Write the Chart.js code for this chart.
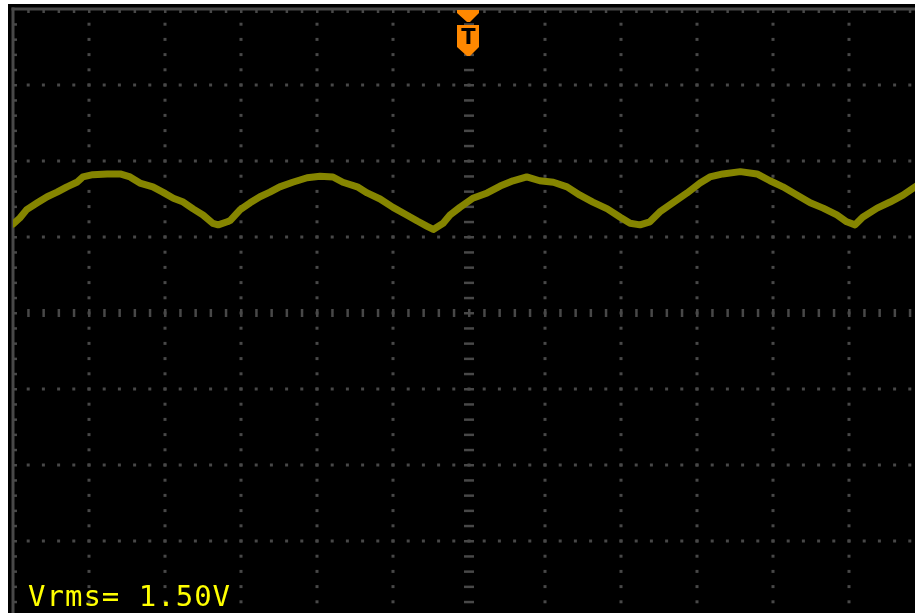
<!DOCTYPE html>
<html>
<head>
<meta charset="utf-8">
<title>Scope capture</title>
<script src="https://cdn.jsdelivr.net/npm/chart.js@4.4.1/dist/chart.umd.min.js"></script>
<style>
  html, body { margin: 0; padding: 0; background: #fff; }
  #wrap { position: relative; width: 915px; height: 613px; overflow: hidden; }
  #screen { position: absolute; left: 8px; top: 4px; right: 0; bottom: 0; background: #000; }
  #scope { position: absolute; left: 0; top: 0; width: 915px; height: 613px; }
  #readout {
    position: absolute; left: 28px; top: 582px;
    font-family: "DejaVu Sans Mono", monospace; font-size: 29px; line-height: 29px;
    letter-spacing: 1px; color: #ffff00; white-space: pre;
  }
</style>
</head>
<body>
<div id="wrap">
  <div id="screen"></div>
  <canvas id="scope" width="915" height="613"></canvas>
  <div id="readout"></div>
</div>
<script>
// trace, in screen divisions (0,0 = centre of graticule)
const timeDiv = [-6.00, -5.91, -5.82, -5.68, -5.55, -5.42, -5.29, -5.16, -5.08, -4.95,
  -4.76, -4.59, -4.46, -4.33, -4.16, -4.03, -3.89, -3.76, -3.63, -3.50,
  -3.37, -3.30, -3.18, -3.14, -3.01, -2.88, -2.75, -2.62, -2.49, -2.32,
  -2.13, -1.96, -1.79, -1.66, -1.47, -1.34, -1.17, -1.00, -0.82, -0.68,
  -0.55, -0.47, -0.34, -0.25, -0.12, 0.05, 0.24, 0.41, 0.58, 0.76,
  0.93, 1.11, 1.29, 1.46, 1.63, 1.82, 1.99, 2.12, 2.25, 2.38,
  2.51, 2.68, 2.87, 3.04, 3.17, 3.34, 3.57, 3.79, 3.96, 4.13,
  4.32, 4.49, 4.66, 4.84, 4.97, 5.08, 5.18, 5.37, 5.54, 5.71,
  5.84, 5.93];

const voltsDiv = [1.17, 1.25, 1.36, 1.45, 1.53, 1.59, 1.66, 1.72, 1.79, 1.82,
  1.83, 1.83, 1.79, 1.71, 1.66, 1.59, 1.51, 1.46, 1.37, 1.29,
  1.18, 1.16, 1.20, 1.22, 1.36, 1.45, 1.53, 1.59, 1.66, 1.72,
  1.78, 1.80, 1.79, 1.72, 1.66, 1.58, 1.50, 1.39, 1.29, 1.21,
  1.14, 1.10, 1.18, 1.29, 1.39, 1.51, 1.58, 1.67, 1.74, 1.79,
  1.74, 1.72, 1.66, 1.55, 1.46, 1.37, 1.26, 1.18, 1.16, 1.20,
  1.33, 1.45, 1.58, 1.71, 1.79, 1.83, 1.86, 1.83, 1.74, 1.66,
  1.55, 1.45, 1.38, 1.29, 1.20, 1.16, 1.26, 1.38, 1.46, 1.55,
  1.64, 1.70];

// graticule divisions and the trigger position
const gridX = [-6, -5, -4, -3, -2, -1, 0, 1, 2, 3, 4, 5];
const gridY = [4, 3, 2, 1, 0, -1, -2, -3];
const triggerAt = 0;
const readoutText = "Vrms= 1.50V";

document.getElementById("readout").textContent = readoutText;

// 76px per division, screen cropped on the right and bottom
const DIV = 76;
const xMin = -6, xMax = -6 + (915 - 13) / DIV;
const yMax = 4, yMin = 4 - (613 - 9) / DIV;

const scopeGrid = {
  id: "scopeGrid",
  beforeDatasetsDraw(chart) {
    const { ctx, chartArea: a, scales: { x, y } } = chart;
    ctx.save();
    ctx.fillStyle = "#484848";

    // vertical lines
    gridX.forEach(gx => {
      const px = x.getPixelForValue(gx);
      for (let k = 1; k < 40; k++) {
        const py = y.getPixelForValue(yMax - k * 0.2);
        if (py > a.bottom) break;
        if (gx === xMin) ctx.fillRect(px, py - 1, 4, 2.5);
        else if (gx === 0) ctx.fillRect(px - 5, py - 1, 10, 2.5);
        else ctx.fillRect(px - 1.5, py - 1.5, 3, 3);
      }
    });

    // horizontal lines
    gridY.forEach(gy => {
      const py = y.getPixelForValue(gy);
      for (let k = 1; k < 70; k++) {
        const px = x.getPixelForValue(xMin + k * 0.2);
        if (px > a.right) break;
        if (gy === yMax) ctx.fillRect(px - 1, py, 2.5, 4);
        else if (gy === 0) ctx.fillRect(px - 1, py - 4, 2.5, 8);
        else ctx.fillRect(px - 1.5, py - 1.5, 3, 3);
      }
    });

    // frame
    ctx.fillRect(a.left - 1.5, a.top - 1.5, 3, a.bottom - a.top + 2);
    ctx.fillRect(a.left - 1.5, a.top - 1.5, a.right - a.left + 2, 3);
    ctx.restore();
  }
};

const triggerMark = {
  id: "triggerMark",
  afterDatasetsDraw(chart) {
    const { ctx, chartArea: a, scales: { x } } = chart;
    const cx = x.getPixelForValue(triggerAt);
    const t = a.top;
    ctx.save();
    ctx.fillStyle = "#ff8800";

    // small arrow on the top edge
    ctx.beginPath();
    ctx.moveTo(cx - 12, t + 1);
    ctx.lineTo(cx + 10, t + 1);
    ctx.lineTo(cx + 10, t + 4);
    ctx.lineTo(cx + 1, t + 13);
    ctx.lineTo(cx - 2, t + 13);
    ctx.lineTo(cx - 12, t + 4);
    ctx.closePath();
    ctx.fill();

    // badge
    ctx.beginPath();
    ctx.moveTo(cx - 12, t + 16);
    ctx.lineTo(cx + 10, t + 16);
    ctx.lineTo(cx + 10, t + 38);
    ctx.lineTo(cx + 1, t + 47);
    ctx.lineTo(cx - 2, t + 47);
    ctx.lineTo(cx - 12, t + 38);
    ctx.closePath();
    ctx.fill();

    ctx.fillStyle = "#000";
    ctx.font = "bold 21px 'DejaVu Sans'";
    ctx.textAlign = "center";
    ctx.textBaseline = "alphabetic";
    ctx.fillText("T", cx - 0.5, t + 35);
    ctx.restore();
  }
};

new Chart(document.getElementById("scope"), {
  type: "line",
  data: {
    datasets: [{
      label: "CH1",
      data: timeDiv.map((v, i) => ({ x: v, y: voltsDiv[i] })),
      borderColor: "#858500",
      borderWidth: 7,
      borderJoinStyle: "round",
      borderCapStyle: "round",
      pointRadius: 0,
      tension: 0,
      fill: false
    }]
  },
  options: {
    responsive: false,
    animation: false,
    layout: { padding: { left: 13, top: 9, right: 0, bottom: 0 } },
    scales: {
      x: { type: "linear", min: xMin, max: xMax, display: false },
      y: { type: "linear", min: yMin, max: yMax, display: false }
    },
    plugins: {
      legend: { display: false },
      tooltip: { enabled: false }
    }
  },
  plugins: [scopeGrid, triggerMark]
});
</script>
</body>
</html>
